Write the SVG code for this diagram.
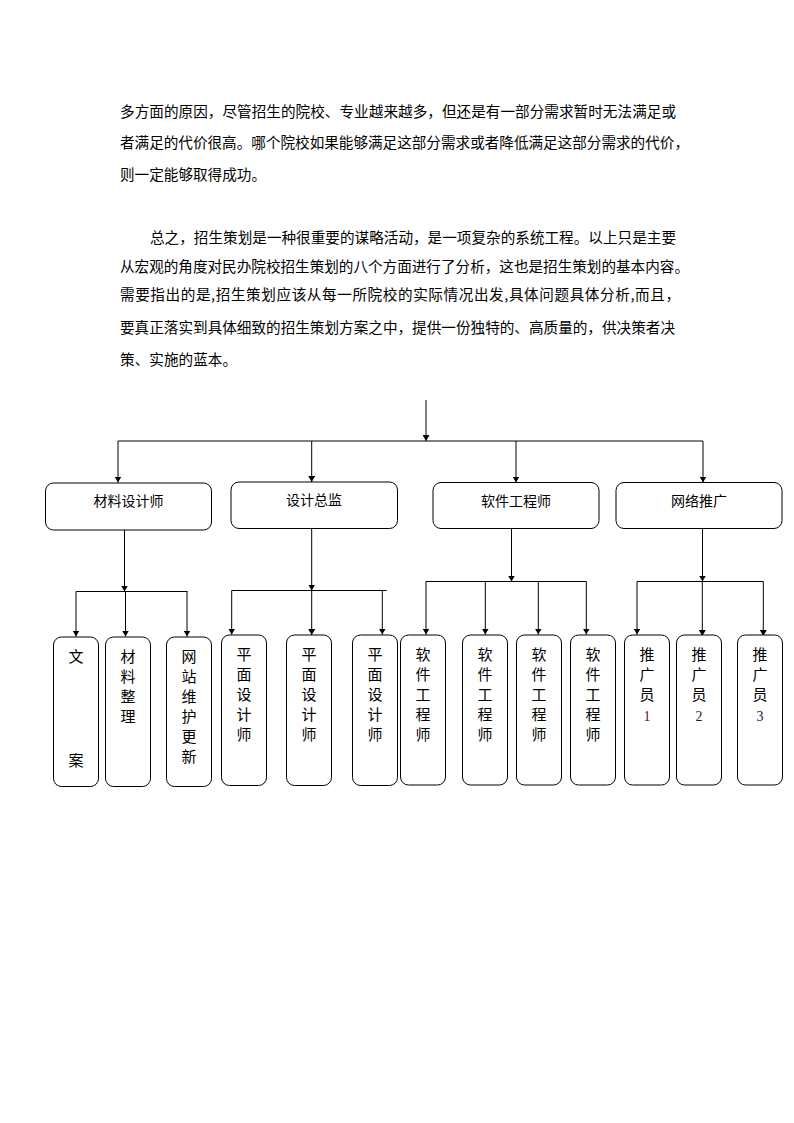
<svg xmlns="http://www.w3.org/2000/svg" width="794" height="1123" viewBox="0 0 794 1123">
<style>
.p{font-family:"Noto Sans CJK SC","Noto Sans CJK JP",sans-serif;font-size:14.6px;fill:#000}
.bx{fill:#fff;stroke:#000;stroke-width:1}
.lb{font-family:"Noto Sans CJK SC","Noto Sans CJK JP",sans-serif;font-size:14px;fill:#000;text-anchor:middle}
.vt{font-family:"Noto Sans CJK SC","Noto Sans CJK JP",sans-serif;font-size:15px;fill:#000;text-anchor:middle}
.num{font-family:"Liberation Serif",serif;font-size:14px;text-anchor:middle}
.cn{fill:none;stroke:#000;stroke-width:1}
.ar{marker-end:url(#arr)}
</style>
<defs>
<marker id="arr" markerWidth="7" markerHeight="7" refX="6" refY="3.5" orient="auto" markerUnits="userSpaceOnUse">
<path d="M0,0 L6,3.5 L0,7 z" fill="#000"/>
</marker>
</defs>
<rect width="794" height="1123" fill="#fff"/>
<g id="text">
<text class="p" x="120" y="117" textLength="556" lengthAdjust="spacing">多方面的原因，尽管招生的院校、专业越来越多，但还是有一部分需求暂时无法满足或</text>
<text class="p" x="120" y="148" textLength="569" lengthAdjust="spacing">者满足的代价很高。哪个院校如果能够满足这部分需求或者降低满足这部分需求的代价，</text>
<text class="p" x="120" y="180" textLength="146" lengthAdjust="spacing">则一定能够取得成功。</text>
<text class="p" x="150" y="243" textLength="526" lengthAdjust="spacing">总之，招生策划是一种很重要的谋略活动，是一项复杂的系统工程。以上只是主要</text>
<text class="p" x="120" y="271.5" textLength="569" lengthAdjust="spacing">从宏观的角度对民办院校招生策划的八个方面进行了分析，这也是招生策划的基本内容。</text>
<text class="p" x="120" y="299.5" textLength="560" lengthAdjust="spacing">需要指出的是,招生策划应该从每一所院校的实际情况出发,具体问题具体分析,而且，</text>
<text class="p" x="120" y="333" textLength="555" lengthAdjust="spacing">要真正落实到具体细致的招生策划方案之中，提供一份独特的、高质量的，供决策者决</text>
<text class="p" x="120" y="364.5" textLength="117" lengthAdjust="spacing">策、实施的蓝本。</text>
</g>
<g id="connectors">
<path class="cn ar" d="M426,400 V441"/>
<path class="cn" d="M118,441 H703"/>
<path class="cn ar" d="M118,441 V482.5"/>
<path class="cn ar" d="M311.7,441 V482"/>
<path class="cn ar" d="M516,441 V482.5"/>
<path class="cn ar" d="M703,441 V482.5"/>

<path class="cn ar" d="M124.5,530 V591.5"/>
<path class="cn" d="M76,591.5 H187.5"/>
<path class="cn ar" d="M76,591.5 V636.5"/>
<path class="cn ar" d="M125.5,591.5 V636.5"/>
<path class="cn ar" d="M187,591.5 V636.5"/>

<path class="cn ar" d="M311.7,528.5 V590.5"/>
<path class="cn" d="M231.7,590.5 H386.7"/>
<path class="cn ar" d="M231.7,590.5 V634.5"/>
<path class="cn ar" d="M311.7,590.5 V635"/>
<path class="cn ar" d="M382.3,590.5 V634.5"/>

<path class="cn ar" d="M511.5,528.5 V581.5"/>
<path class="cn" d="M426,581.5 H586.3"/>
<path class="cn ar" d="M426,581.5 V634.5"/>
<path class="cn ar" d="M485.3,581.5 V634.5"/>
<path class="cn ar" d="M485.3,634.5 V641"/>
<path class="cn ar" d="M538.3,581.5 V634.5"/>
<path class="cn ar" d="M586.3,581.5 V634.5"/>

<path class="cn ar" d="M702.5,528.5 V581.5"/>
<path class="cn" d="M637,581.5 H763.3"/>
<path class="cn ar" d="M637,581.5 V634.5"/>
<path class="cn ar" d="M702.3,581.5 V636"/>
<path class="cn ar" d="M763.3,581.5 V636"/>
</g>
<g id="n-cailiaosheji"><rect class="bx" x="45.5" y="483" width="166" height="47" rx="8"/><text class="lb" x="128.5" y="506">材料设计师</text></g>
<g id="n-shejizongjian"><rect class="bx" x="231" y="482" width="166.5" height="46.5" rx="8"/><text class="lb" x="314" y="505">设计总监</text></g>
<g id="n-ruanjian"><rect class="bx" x="433" y="482.5" width="166" height="46" rx="8"/><text class="lb" x="516" y="506">软件工程师</text></g>
<g id="n-wangluo"><rect class="bx" x="616" y="482.5" width="166" height="46" rx="8"/><text class="lb" x="699" y="506">网络推广</text></g>

<g id="n-wenan"><rect class="bx" x="53.5" y="637" width="45" height="149.5" rx="8"/>
<text class="vt" x="76" y="662">文</text><text class="vt" x="76" y="765.5">案</text></g>
<g id="n-cailiaozhengli"><rect class="bx" x="105.5" y="637" width="45" height="149.5" rx="8"/>
<text class="vt" x="128" y="662">材</text><text class="vt" x="128" y="682">料</text><text class="vt" x="128" y="702">整</text><text class="vt" x="128" y="722">理</text></g>
<g id="n-wangzhan"><rect class="bx" x="166.5" y="637" width="45" height="149.5" rx="8"/>
<text class="vt" x="189" y="662">网</text><text class="vt" x="189" y="682">站</text><text class="vt" x="189" y="702">维</text><text class="vt" x="189" y="722">护</text><text class="vt" x="189" y="742">更</text><text class="vt" x="189" y="762">新</text></g>
<g id="n-pingmian1"><rect class="bx" x="221.5" y="635" width="45" height="150.5" rx="8"/>
<text class="vt" x="244" y="660">平</text><text class="vt" x="244" y="680">面</text><text class="vt" x="244" y="700">设</text><text class="vt" x="244" y="720">计</text><text class="vt" x="244" y="740">师</text></g>
<g id="n-pingmian2"><rect class="bx" x="286.5" y="635" width="45" height="150.5" rx="8"/>
<text class="vt" x="309" y="660">平</text><text class="vt" x="309" y="680">面</text><text class="vt" x="309" y="700">设</text><text class="vt" x="309" y="720">计</text><text class="vt" x="309" y="740">师</text></g>
<g id="n-pingmian3"><rect class="bx" x="352.5" y="635" width="45" height="150.5" rx="8"/>
<text class="vt" x="375" y="660">平</text><text class="vt" x="375" y="680">面</text><text class="vt" x="375" y="700">设</text><text class="vt" x="375" y="720">计</text><text class="vt" x="375" y="740">师</text></g>
<g id="n-ruanjian1"><rect class="bx" x="400.5" y="635" width="45" height="150" rx="8"/>
<text class="vt" x="423" y="660">软</text><text class="vt" x="423" y="680">件</text><text class="vt" x="423" y="700">工</text><text class="vt" x="423" y="720">程</text><text class="vt" x="423" y="740">师</text></g>
<g id="n-ruanjian2"><rect class="bx" x="462.5" y="635" width="45" height="150" rx="8"/>
<text class="vt" x="485" y="660">软</text><text class="vt" x="485" y="680">件</text><text class="vt" x="485" y="700">工</text><text class="vt" x="485" y="720">程</text><text class="vt" x="485" y="740">师</text></g>
<g id="n-ruanjian3"><rect class="bx" x="516.5" y="635" width="45" height="150" rx="8"/>
<text class="vt" x="539" y="660">软</text><text class="vt" x="539" y="680">件</text><text class="vt" x="539" y="700">工</text><text class="vt" x="539" y="720">程</text><text class="vt" x="539" y="740">师</text></g>
<g id="n-ruanjian4"><rect class="bx" x="570.5" y="635" width="45" height="150" rx="8"/>
<text class="vt" x="593" y="660">软</text><text class="vt" x="593" y="680">件</text><text class="vt" x="593" y="700">工</text><text class="vt" x="593" y="720">程</text><text class="vt" x="593" y="740">师</text></g>
<g id="n-tuiguang1"><rect class="bx" x="624.5" y="635" width="45" height="150" rx="8"/>
<text class="vt" x="647" y="660">推</text><text class="vt" x="647" y="680">广</text><text class="vt" x="647" y="700">员</text><text class="num" x="647" y="721" fill="#5a0a2e">1</text></g>
<g id="n-tuiguang2"><rect class="bx" x="676.5" y="635" width="45" height="150" rx="8"/>
<text class="vt" x="699" y="660">推</text><text class="vt" x="699" y="680">广</text><text class="vt" x="699" y="700">员</text><text class="num" x="699" y="721" fill="#1a1a3a">2</text></g>
<g id="n-tuiguang3"><rect class="bx" x="737.5" y="635" width="45" height="150" rx="8"/>
<text class="vt" x="760" y="660">推</text><text class="vt" x="760" y="680">广</text><text class="vt" x="760" y="700">员</text><text class="num" x="760" y="721" fill="#10205a">3</text></g>
</svg>
